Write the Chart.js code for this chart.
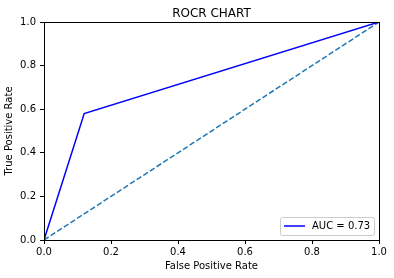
<!DOCTYPE html>
<html lang="en">
<head>
    <meta charset="UTF-8">
    <title>ROCR CHART</title>
    <script src="https://cdn.jsdelivr.net/npm/chart.js"></script>
</head>

<style>
    body { margin: 0; background: #fff; }
    .grafico_sty { width: 394px; height: 278px; }
</style>

<body>

    <div class="grafico_sty">
        <canvas id="grafico_roc" width="394" height="278"></canvas>
    </div>

    <script>
        // dados
        const fpr = [0, 0.12, 1];
        const tpr = [0, 0.58, 1];
        const acasoX = [0, 1];
        const acasoY = [0, 1];
        const ticksEixo = [0, 0.2, 0.4, 0.6, 0.8, 1.0];
        const rotuloAuc = 'AUC = 0.73';

        const fonte = "'DejaVu Sans', sans-serif";

        const pares = (xs, ys) => xs.map((x, i) => ({ x: x, y: ys[i] }));

        // moldura + legenda dentro da area do grafico
        const molduraLegenda = {
            id: 'molduraLegenda',
            afterDraw(chart) {
                const { ctx, chartArea: a } = chart;
                const l = Math.round(a.left), t = Math.round(a.top);
                const r = Math.round(a.right), b = Math.round(a.bottom);
                ctx.save();
                ctx.strokeStyle = '#000';
                ctx.lineWidth = 1;
                ctx.strokeRect(l + 0.5, t + 0.5, r - l, b - t);

                const w = 94, h = 18;
                const x0 = r - 5 - w, y0 = b - 5 - h;
                ctx.beginPath();
                ctx.roundRect(x0 + 0.5, y0 + 0.5, w, h, 2);
                ctx.fillStyle = 'rgba(255,255,255,0.8)';
                ctx.fill();
                ctx.strokeStyle = '#cccccc';
                ctx.stroke();

                const ds = chart.data.datasets[0];
                ctx.beginPath();
                ctx.moveTo(x0 + 4, y0 + 9);
                ctx.lineTo(x0 + 25, y0 + 9);
                ctx.strokeStyle = ds.borderColor;
                ctx.lineWidth = 1.5;
                ctx.stroke();

                ctx.fillStyle = '#000';
                ctx.font = '10px ' + fonte;
                ctx.textBaseline = 'middle';
                ctx.fillText(ds.label, x0 + 32, y0 + 9.5);
                ctx.restore();
            }
        };

        const eixo = (titulo, ehY) => ({
            type: 'linear',
            min: 0,
            max: 1,
            afterBuildTicks: s => { s.ticks = ticksEixo.map(v => ({ value: v })); },
            afterFit: s => { if (ehY) s.width = 44; else s.height = 38; },
            grid: { display: true, drawOnChartArea: false, drawTicks: true, tickLength: 4, color: '#000' },
            border: { display: false },
            ticks: {
                color: '#000',
                font: { family: fonte, size: 10 },
                padding: ehY ? 4 : 2,
                maxRotation: 0,
                callback: v => Number(v).toFixed(1)
            },
            title: {
                display: true,
                text: titulo,
                color: '#000',
                font: { family: fonte, size: 10 },
                padding: ehY ? { top: 3.5, bottom: 2 } : { top: 2, bottom: 5.5 }
            }
        });

        const ctx = document.getElementById('grafico_roc');

        const grafico = new Chart(ctx, {
            type: 'scatter',
            data: {
                datasets: [
                    {
                        label: rotuloAuc,
                        data: pares(fpr, tpr),
                        showLine: true,
                        borderColor: '#0000ff',
                        borderWidth: 1.5,
                        pointRadius: 0,
                        tension: 0
                    },
                    {
                        label: 'acaso',
                        data: pares(acasoX, acasoY),
                        showLine: true,
                        borderColor: '#1f77b4',
                        borderWidth: 1.5,
                        borderDash: [5.5, 2.4],
                        pointRadius: 0,
                        tension: 0
                    }
                ]
            },
            options: {
                responsive: false,
                animation: false,
                maintainAspectRatio: false,
                devicePixelRatio: 1,
                layout: { padding: { left: 0, right: 15, top: 0, bottom: 0 } },
                plugins: {
                    legend: { display: false },
                    tooltip: { enabled: false },
                    title: {
                        display: true,
                        text: 'ROCR CHART',
                        fullSize: false,
                        color: '#000',
                        font: { family: fonte, size: 12, weight: 'normal' },
                        padding: { top: 6.5, bottom: 1.1 }
                    }
                },
                scales: {
                    x: eixo('False Positive Rate', false),
                    y: eixo('True Positive Rate', true)
                }
            },
            plugins: [molduraLegenda]
        });
    </script>

</body>
</html>
